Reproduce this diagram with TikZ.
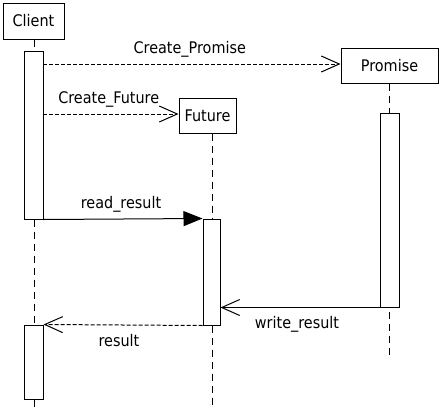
\documentclass[tikz,border=0pt]{standalone}
\usepackage{fontspec}
\setmainfont{DejaVu Sans}[FakeStretch=0.9]
\usetikzlibrary{arrows.meta}
\begin{document}
\begin{tikzpicture}[x=1pt,y=-1pt,line width=1pt,
  every node/.style={font=\fontsize{16}{18}\selectfont},
  actor/.style={draw,fill=white,inner sep=0pt,anchor=center},
  bar/.style={draw,fill=white},
  lifeline/.style={dash pattern=on 7pt off 5pt},
  msgdash/.style={dash pattern=on 4pt off 2pt},
  opentip/.style={-{Straight Barb[length=18pt,width=16pt,line width=1pt]}},
  filltip/.style={-{Triangle[length=19pt,width=15pt]}},
  lblabove/.style={anchor=base,yshift=11pt,inner sep=0pt},
  lblbelow/.style={anchor=base,yshift=-21pt,inner sep=0pt}]
\useasboundingbox (0,0) rectangle (444,415);
% actors
\node[actor,minimum width=61pt,minimum height=36pt] (client) at (33.5,21) {Client};
\node[actor,minimum width=57pt,minimum height=35pt] (future) at (207.5,115.5) {Future};
\node[actor,minimum width=97pt,minimum height=35pt] (promise) at (389.5,65.5) {Promise};
% lifeline ends
\coordinate (cend) at (34,410);
\coordinate (fend) at (212,405);
\coordinate (pend) at (389,355);
\draw[lifeline] (client.south -| cend) -- (cend);
\draw[lifeline] (future.south -| fend) -- (fend);
\draw[lifeline] (promise.south -| pend) -- (pend);
% activation bars
\node[bar,inner sep=0pt,minimum width=19pt,minimum height=168pt] (cbar1) at (33.5,135) {};
\node[bar,inner sep=0pt,minimum width=19pt,minimum height=74pt] (cbar2) at (33.5,362) {};
\node[bar,inner sep=0pt,minimum width=17pt,minimum height=106pt] (fbar) at (211.5,272) {};
\node[bar,inner sep=0pt,minimum width=19pt,minimum height=194pt] (pbar) at (389.5,210) {};
% messages
\coordinate (m1) at (43,64);
\draw[msgdash,opentip] (m1) -- (m1 -| promise.west)
  node[lblabove,pos=0.5,xshift=-2pt] (l1) {Create\_Promise};
\coordinate (m2) at (43,114);
\draw[msgdash,opentip] (m2) -- (m2 -| future.west)
  node[lblabove,pos=0.5,xshift=-2pt] (l2) {Create\_Future};
\draw[filltip] (cbar1.south east) -- (fbar.north west)
  node[lblabove,pos=0.5,xshift=-2pt] (l3) {read\_result};
\draw[opentip] (pbar.south west) -- (pbar.south west -| fbar.east)
  node[lblbelow,pos=0.5,xshift=-3pt] (l4) {write\_result};
\draw[msgdash,opentip] (fbar.south west) -- (cbar2.north east)
  node[lblbelow,pos=0.5,xshift=-4pt] (l5) {result};
\end{tikzpicture}
\end{document}
